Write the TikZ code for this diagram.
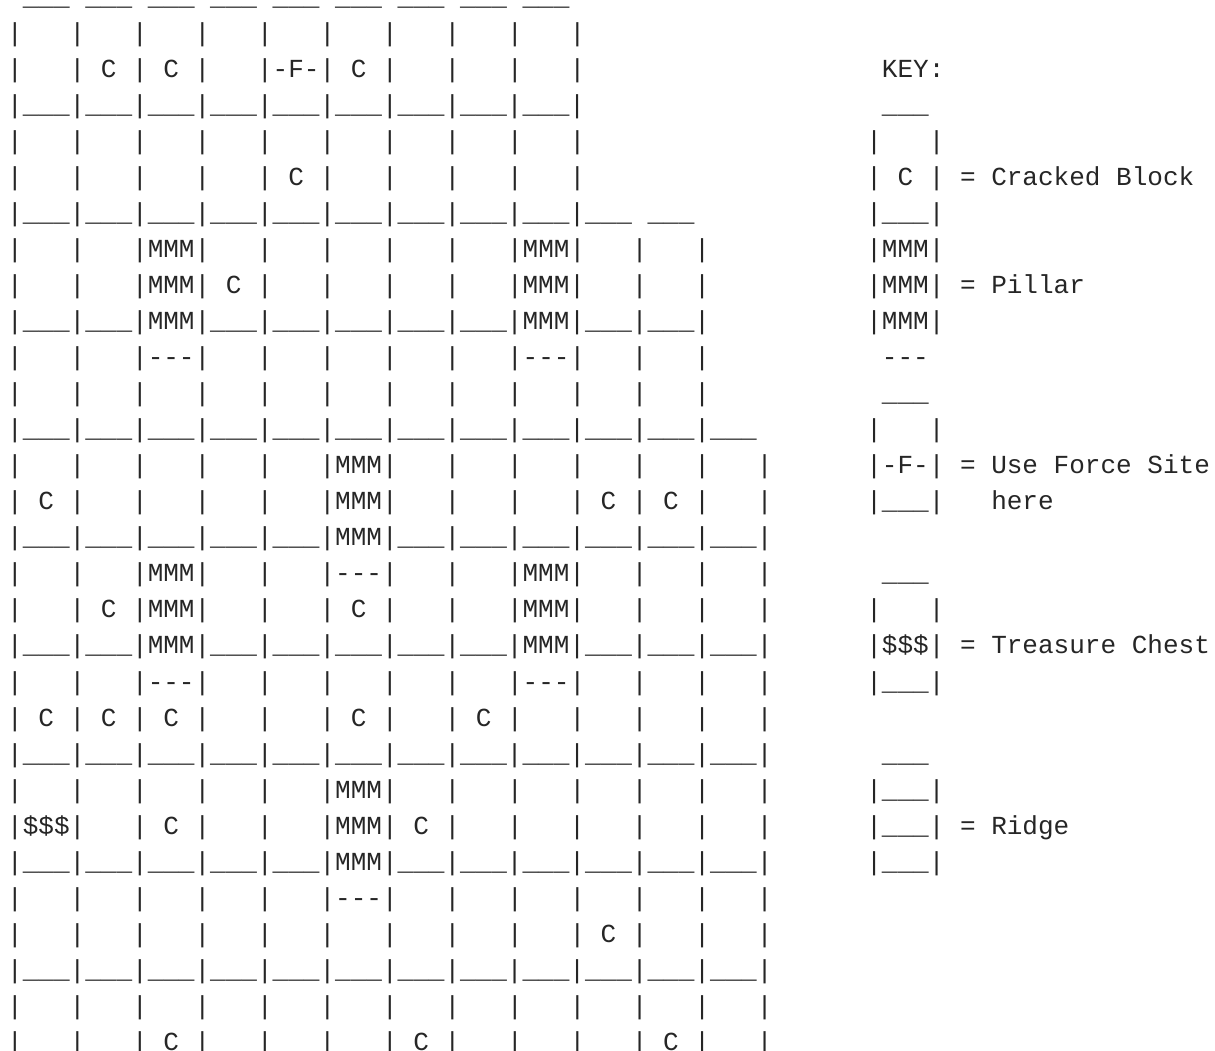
\documentclass[tikz,border=0pt]{standalone}
\usepackage{fontspec}
\setmonofont{Liberation Mono}
\newcommand\Xe{~~~}
\newcommand\Xu{\_\_\_}
\newcommand\Xc{~C~}
\newcommand\Xm{MMM}
\newcommand\Xd{-{}-{}-}
\newcommand\Xf{-F-}
\newcommand\Xs{\$\$\$}
\begin{document}
\begin{tikzpicture}[x=1pt,y=-1pt,
  ascii/.style={anchor=base west, inner sep=0pt, outer sep=0pt,
    font=\ttfamily\fontsize{26.03}{36}\selectfont, text=black!85}]
\useasboundingbox (0,0) rectangle (1215,1050);
\fill[white] (0,0) rectangle (1215,1050);
% grid lines (column 0 at x=7.2, 15.62 per character)
\node[ascii] (g1)  at (7.2,{36.05*1-31})  {~\Xu~\Xu~\Xu~\Xu~\Xu~\Xu~\Xu~\Xu~\Xu};
\node[ascii] (g2)  at (7.2,{36.05*2-31})  {|\Xe|\Xe|\Xe|\Xe|\Xe|\Xe|\Xe|\Xe|\Xe|};
\node[ascii] (g3)  at (7.2,{36.05*3-31})  {|\Xe|\Xc|\Xc|\Xe|\Xf|\Xc|\Xe|\Xe|\Xe|};
\node[ascii] (g4)  at (7.2,{36.05*4-31})  {|\Xu|\Xu|\Xu|\Xu|\Xu|\Xu|\Xu|\Xu|\Xu|};
\node[ascii] (g5)  at (7.2,{36.05*5-31})  {|\Xe|\Xe|\Xe|\Xe|\Xe|\Xe|\Xe|\Xe|\Xe|};
\node[ascii] (g6)  at (7.2,{36.05*6-31})  {|\Xe|\Xe|\Xe|\Xe|\Xc|\Xe|\Xe|\Xe|\Xe|};
\node[ascii] (g7)  at (7.2,{36.05*7-31})  {|\Xu|\Xu|\Xu|\Xu|\Xu|\Xu|\Xu|\Xu|\Xu|\Xu~\Xu};
\node[ascii] (g8)  at (7.2,{36.05*8-31})  {|\Xe|\Xe|\Xm|\Xe|\Xe|\Xe|\Xe|\Xe|\Xm|\Xe|\Xe|};
\node[ascii] (g9)  at (7.2,{36.05*9-31})  {|\Xe|\Xe|\Xm|\Xc|\Xe|\Xe|\Xe|\Xe|\Xm|\Xe|\Xe|};
\node[ascii] (g10) at (7.2,{36.05*10-31}) {|\Xu|\Xu|\Xm|\Xu|\Xu|\Xu|\Xu|\Xu|\Xm|\Xu|\Xu|};
\node[ascii] (g11) at (7.2,{36.05*11-31}) {|\Xe|\Xe|\Xd|\Xe|\Xe|\Xe|\Xe|\Xe|\Xd|\Xe|\Xe|};
\node[ascii] (g12) at (7.2,{36.05*12-31}) {|\Xe|\Xe|\Xe|\Xe|\Xe|\Xe|\Xe|\Xe|\Xe|\Xe|\Xe|};
\node[ascii] (g13) at (7.2,{36.05*13-31}) {|\Xu|\Xu|\Xu|\Xu|\Xu|\Xu|\Xu|\Xu|\Xu|\Xu|\Xu|\Xu};
\node[ascii] (g14) at (7.2,{36.05*14-31}) {|\Xe|\Xe|\Xe|\Xe|\Xe|\Xm|\Xe|\Xe|\Xe|\Xe|\Xe|\Xe|};
\node[ascii] (g15) at (7.2,{36.05*15-31}) {|\Xc|\Xe|\Xe|\Xe|\Xe|\Xm|\Xe|\Xe|\Xe|\Xc|\Xc|\Xe|};
\node[ascii] (g16) at (7.2,{36.05*16-31}) {|\Xu|\Xu|\Xu|\Xu|\Xu|\Xm|\Xu|\Xu|\Xu|\Xu|\Xu|\Xu|};
\node[ascii] (g17) at (7.2,{36.05*17-31}) {|\Xe|\Xe|\Xm|\Xe|\Xe|\Xd|\Xe|\Xe|\Xm|\Xe|\Xe|\Xe|};
\node[ascii] (g18) at (7.2,{36.05*18-31}) {|\Xe|\Xc|\Xm|\Xe|\Xe|\Xc|\Xe|\Xe|\Xm|\Xe|\Xe|\Xe|};
\node[ascii] (g19) at (7.2,{36.05*19-31}) {|\Xu|\Xu|\Xm|\Xu|\Xu|\Xu|\Xu|\Xu|\Xm|\Xu|\Xu|\Xu|};
\node[ascii] (g20) at (7.2,{36.05*20-31}) {|\Xe|\Xe|\Xd|\Xe|\Xe|\Xe|\Xe|\Xe|\Xd|\Xe|\Xe|\Xe|};
\node[ascii] (g21) at (7.2,{36.05*21-31}) {|\Xc|\Xc|\Xc|\Xe|\Xe|\Xc|\Xe|\Xc|\Xe|\Xe|\Xe|\Xe|};
\node[ascii] (g22) at (7.2,{36.05*22-31}) {|\Xu|\Xu|\Xu|\Xu|\Xu|\Xu|\Xu|\Xu|\Xu|\Xu|\Xu|\Xu|};
\node[ascii] (g23) at (7.2,{36.05*23-31}) {|\Xe|\Xe|\Xe|\Xe|\Xe|\Xm|\Xe|\Xe|\Xe|\Xe|\Xe|\Xe|};
\node[ascii] (g24) at (7.2,{36.05*24-31}) {|\Xs|\Xe|\Xc|\Xe|\Xe|\Xm|\Xc|\Xe|\Xe|\Xe|\Xe|\Xe|};
\node[ascii] (g25) at (7.2,{36.05*25-31}) {|\Xu|\Xu|\Xu|\Xu|\Xu|\Xm|\Xu|\Xu|\Xu|\Xu|\Xu|\Xu|};
\node[ascii] (g26) at (7.2,{36.05*26-31}) {|\Xe|\Xe|\Xe|\Xe|\Xe|\Xd|\Xe|\Xe|\Xe|\Xe|\Xe|\Xe|};
\node[ascii] (g27) at (7.2,{36.05*27-31}) {|\Xe|\Xe|\Xe|\Xe|\Xe|\Xe|\Xe|\Xe|\Xe|\Xc|\Xe|\Xe|};
\node[ascii] (g28) at (7.2,{36.05*28-31}) {|\Xu|\Xu|\Xu|\Xu|\Xu|\Xu|\Xu|\Xu|\Xu|\Xu|\Xu|\Xu|};
\node[ascii] (g29) at (7.2,{36.05*29-31}) {|\Xe|\Xe|\Xe|\Xe|\Xe|\Xe|\Xe|\Xe|\Xe|\Xe|\Xe|\Xe|};
\node[ascii] (g30) at (7.2,{36.05*30-31}) {|\Xe|\Xe|\Xc|\Xe|\Xe|\Xe|\Xc|\Xe|\Xe|\Xe|\Xc|\Xe|};
% key (column 55 at x=866.3, column 56 at x=881.9)
\node[ascii] (k3)  at (881.9,{36.05*3-31})  {KEY:};
\node[ascii] (k4)  at (881.9,{36.05*4-31})  {\Xu};
\node[ascii] (k5)  at (866.3,{36.05*5-31})  {|\Xe|};
\node[ascii] (k6)  at (866.3,{36.05*6-31})  {|\Xc|~=~Cracked~Block};
\node[ascii] (k7)  at (866.3,{36.05*7-31})  {|\Xu|};
\node[ascii] (k8)  at (866.3,{36.05*8-31})  {|\Xm|};
\node[ascii] (k9)  at (866.3,{36.05*9-31})  {|\Xm|~=~Pillar};
\node[ascii] (k10) at (866.3,{36.05*10-31}) {|\Xm|};
\node[ascii] (k11) at (881.9,{36.05*11-31}) {\Xd};
\node[ascii] (k12) at (881.9,{36.05*12-31}) {\Xu};
\node[ascii] (k13) at (866.3,{36.05*13-31}) {|\Xe|};
\node[ascii] (k14) at (866.3,{36.05*14-31}) {|\Xf|~=~Use~Force~Site};
\node[ascii] (k15) at (866.3,{36.05*15-31}) {|\Xu|~~~here};
\node[ascii] (k17) at (881.9,{36.05*17-31}) {\Xu};
\node[ascii] (k18) at (866.3,{36.05*18-31}) {|\Xe|};
\node[ascii] (k19) at (866.3,{36.05*19-31}) {|\Xs|~=~Treasure~Chest};
\node[ascii] (k20) at (866.3,{36.05*20-31}) {|\Xu|};
\node[ascii] (k22) at (881.9,{36.05*22-31}) {\Xu};
\node[ascii] (k23) at (866.3,{36.05*23-31}) {|\Xu|};
\node[ascii] (k24) at (866.3,{36.05*24-31}) {|\Xu|~=~Ridge};
\node[ascii] (k25) at (866.3,{36.05*25-31}) {|\Xu|};
\end{tikzpicture}
\end{document}
